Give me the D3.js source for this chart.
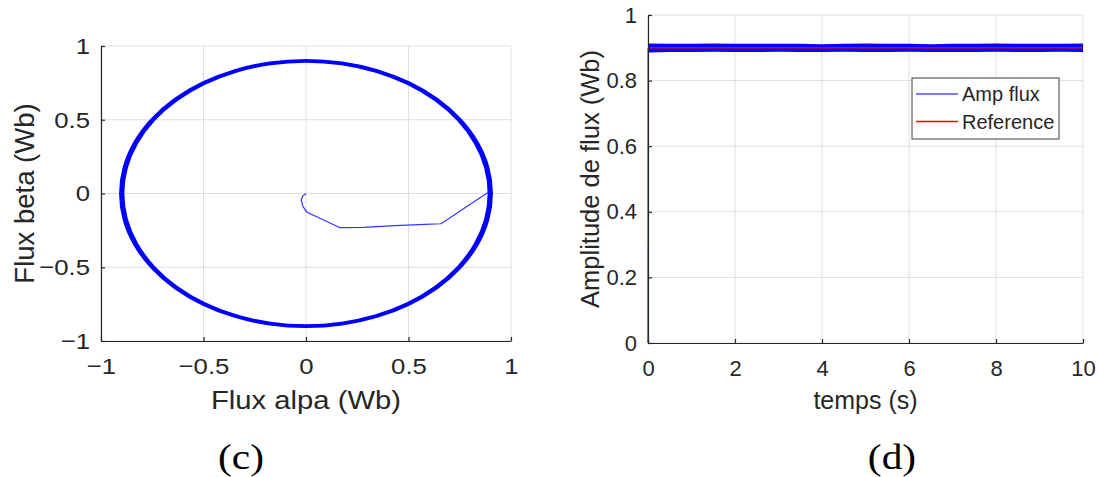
<!DOCTYPE html>
<html>
<head>
<meta charset="utf-8">
<script src="https://cdn.jsdelivr.net/npm/d3@7"></script>
<style>
  html, body { margin: 0; padding: 0; background: #ffffff; }
  svg { display: block; }
  text { font-family: "Liberation Sans", Arial, Helvetica, sans-serif; fill: #262626; }
  .panel-label { font-family: "Liberation Serif", "Times New Roman", serif; fill: #000000; }
</style>
</head>
<body>
<svg id="fig" width="1099" height="477"></svg>
<script>
// ---- (c) stator flux locus, alpha-beta plane ----
const alphaTicks = [-1, -0.5, 0, 0.5, 1];
const betaTicks = [-1, -0.5, 0, 0.5, 1];
// steady-state locus: inner and outer flux amplitude of the traced ring (Wb)
const locusCenter = [0, 0];
const locusBand = [0.886, 0.912];
// start-up transient from the origin to the steady-state circle
const transientAlpha = [0.000, -0.016, -0.023, -0.016, 0.003, 0.166, 0.280, 0.434, 0.580, 0.659, 0.889];
const transientBeta  = [0.000, -0.017, -0.044, -0.085, -0.125, -0.232, -0.229, -0.218, -0.209, -0.205, 0.008];

// ---- (d) flux amplitude vs time ----
const timeTicks = [0, 2, 4, 6, 8, 10];
const ampTicks = [0, 0.2, 0.4, 0.6, 0.8, 1];
// ripple envelope of the estimated flux amplitude (Wb)
const envTime = [0.005, 0.5, 1, 1.5, 2, 2.5, 3, 3.5, 4, 4.5, 5, 5.5, 6, 6.5, 7, 7.5, 8, 8.5, 9, 9.5, 10];
const envLow  = [0.886, 0.887, 0.887, 0.888, 0.887, 0.887, 0.888, 0.887, 0.887, 0.888, 0.887, 0.887, 0.888, 0.887, 0.887, 0.887, 0.888, 0.887, 0.887, 0.888, 0.887];
const envHigh = [0.913, 0.912, 0.912, 0.913, 0.912, 0.912, 0.912, 0.912, 0.911, 0.912, 0.913, 0.912, 0.912, 0.911, 0.912, 0.912, 0.913, 0.912, 0.912, 0.912, 0.913];
// initial build-up of the flux amplitude
const riseTime = [0, 0.004];
const riseAmp = [0, 0.9];
// flux reference
const refTime = [0, 10];
const refAmp = [0.9, 0.9];
const legendLabels = ["Amp flux", "Reference"];

const svg = d3.select("#fig");
svg.append("rect").attr("width", 1099).attr("height", 477).attr("fill", "#ffffff");

const AXIS = "#262626", GRID = "#dfdfdf";
// plain decimal tick text with a typographic minus sign
const fmt = d => String(d).replace("-", "\u2212");

function grid(g, x, y, xt, yt, w, h) {
  g.append("g").selectAll("line").data(xt).join("line")
    .attr("x1", d => x(d)).attr("x2", d => x(d)).attr("y1", 0).attr("y2", h)
    .attr("stroke", GRID).attr("stroke-width", 1);
  g.append("g").selectAll("line").data(yt).join("line")
    .attr("x1", 0).attr("x2", w).attr("y1", d => y(d)).attr("y2", d => y(d))
    .attr("stroke", GRID).attr("stroke-width", 1);
}

// widen glyphs horizontally around each label's own anchor
function stretch(sel, sx) {
  sel.each(function () {
    const t = d3.select(this);
    const x0 = +t.attr("x") || 0;
    t.attr("x", 0).attr("transform", `translate(${x0},0) scale(${sx},1)`);
  });
}

function drawAxes(g, x, y, xt, yt, h, opt) {
  const xa = g.append("g").attr("transform", `translate(0,${h})`)
    .call(d3.axisBottom(x).tickValues(xt).tickFormat(fmt).tickSizeInner(-4).tickSizeOuter(0).tickPadding(opt.padX));
  const ya = g.append("g")
    .call(d3.axisLeft(y).tickValues(yt).tickFormat(fmt).tickSizeInner(-4).tickSizeOuter(0).tickPadding(opt.padY));
  [xa, ya].forEach(a => {
    a.select(".domain").attr("stroke", AXIS).attr("stroke-width", 1.2);
    a.selectAll(".tick line").attr("stroke", AXIS).attr("stroke-width", 1.2);
    const tx = a.selectAll(".tick text").attr("font-size", opt.size).attr("fill", AXIS)
      .attr("font-family", "'Liberation Sans', Arial, sans-serif");
    if (opt.sx !== 1) stretch(tx, opt.sx);
  });
}

// ================= panel (c) =================
{
  const L = 101, T = 46, W = 410, H = 295;
  const g = svg.append("g").attr("transform", `translate(${L},${T})`);
  const x = d3.scaleLinear().domain([-1, 1]).range([0, W]);
  const y = d3.scaleLinear().domain([-1, 1]).range([H, 0]);
  grid(g, x, y, alphaTicks, betaTicks, W, H);

  // ring between the inner and outer amplitude
  const cx = x(locusCenter[0]), cy = y(locusCenter[1]);
  const ellipse = r => {
    const rx = x(r) - x(0), ry = y(0) - y(r);
    return `M${cx - rx},${cy}a${rx},${ry} 0 1,0 ${2 * rx},0a${rx},${ry} 0 1,0 ${-2 * rx},0Z`;
  };
  g.append("path")
    .attr("d", ellipse(locusBand[1]) + ellipse(locusBand[0]))
    .attr("fill", "#0000ff").attr("fill-rule", "evenodd");

  const tr = d3.range(transientAlpha.length).map(i => [transientAlpha[i], transientBeta[i]]);
  g.append("path").datum(tr)
    .attr("d", d3.line().x(d => x(d[0])).y(d => y(d[1])))
    .attr("fill", "none").attr("stroke", "#3333ff").attr("stroke-width", 1.2);

  drawAxes(g, x, y, alphaTicks, betaTicks, H, { size: 23, sx: 1.12, padX: 17, padY: 11 });

  g.append("text").attr("transform", `translate(${W / 2},${409 - T}) scale(1.17,1)`)
    .attr("text-anchor", "middle").attr("font-size", 25).text("Flux alpa (Wb)");
  g.append("text").attr("transform", `translate(${24 - L},${H / 2}) rotate(-90)`)
    .attr("dy", "0.35em").attr("text-anchor", "middle").attr("font-size", 27.5).text("Flux beta (Wb)");
}

// ================= panel (d) =================
{
  const L = 648, T = 15, W = 435, H = 328;
  const g = svg.append("g").attr("transform", `translate(${L},${T})`);
  const x = d3.scaleLinear().domain([0, 10]).range([0, W]);
  const y = d3.scaleLinear().domain([0, 1]).range([H, 0]);
  grid(g, x, y, timeTicks, ampTicks, W, H);

  const env = envTime.map((t, i) => ({ t, lo: envLow[i], hi: envHigh[i] }));
  g.append("path").datum(env)
    .attr("d", d3.area().x(d => x(d.t)).y0(d => y(d.lo)).y1(d => y(d.hi)))
    .attr("fill", "#0000ff");

  const rise = riseTime.map((t, i) => [t, riseAmp[i]]);
  g.append("path").datum(rise)
    .attr("d", d3.line().x(d => x(d[0])).y(d => y(d[1])))
    .attr("fill", "none").attr("stroke", "#3d3dff").attr("stroke-width", 1.3);

  const ref = refTime.map((t, i) => [t, refAmp[i]]);
  g.append("path").datum(ref)
    .attr("d", d3.line().x(d => x(d[0])).y(d => y(d[1])))
    .attr("fill", "none").attr("stroke", "#ff0000").attr("stroke-width", 1.3);

  drawAxes(g, x, y, timeTicks, ampTicks, H, { size: 22, sx: 1, padX: 17, padY: 11 });

  g.append("text").attr("x", W / 2).attr("y", 409 - T)
    .attr("text-anchor", "middle").attr("font-size", 25).text("temps (s)");
  g.append("text").attr("transform", `translate(${590 - L},${H / 2}) rotate(-90)`)
    .attr("dy", "0.35em").attr("text-anchor", "middle").attr("font-size", 25.5).text("Amplitude de flux (Wb)");

  // legend
  const lg = g.append("g").attr("transform", `translate(${912 - L},${78 - T})`);
  lg.append("rect").attr("width", 147).attr("height", 61)
    .attr("fill", "#ffffff").attr("stroke", "#3c3c3c").attr("stroke-width", 1);
  const colors = ["#5050ff", "#ff0000"];
  legendLabels.forEach((lab, i) => {
    const yy = 16 + i * 27.5;
    lg.append("line").attr("x1", 4).attr("x2", 46).attr("y1", yy).attr("y2", yy)
      .attr("stroke", colors[i]).attr("stroke-width", 1.3);
    lg.append("text").attr("x", 50).attr("y", yy).attr("dy", "0.35em")
      .attr("font-size", 20).attr("fill", "#000000").text(lab);
  });
}

// panel captions
svg.append("text").attr("class", "panel-label").attr("transform", "translate(241,469) scale(1.15,1)")
  .attr("text-anchor", "middle").attr("font-size", 36).text("(c)");
svg.append("text").attr("class", "panel-label").attr("transform", "translate(892,469) scale(1.15,1)")
  .attr("text-anchor", "middle").attr("font-size", 36).text("(d)");
</script>
</body>
</html>
